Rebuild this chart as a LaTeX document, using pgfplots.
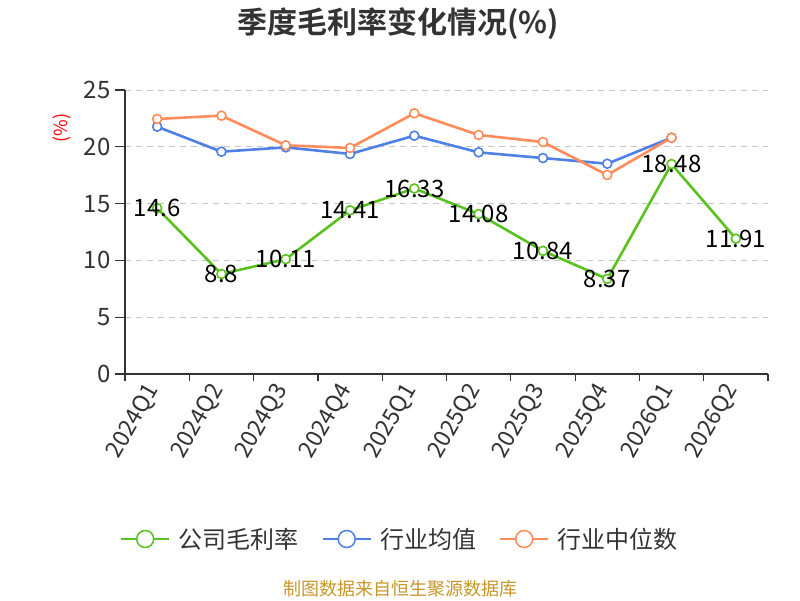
\documentclass[border=0pt]{standalone}
\usepackage{pgfplots}
\pgfplotsset{compat=1.18}
\usepackage{fontspec}
\setmainfont{Noto Sans CJK SC}
\newfontfamily\titlefont{Noto Sans CJK SC Bold}
\definecolor{cgreen}{HTML}{5AC21E}
\definecolor{cblue}{HTML}{4E80E6}
\definecolor{corange}{HTML}{FF8C5A}
\definecolor{ctext}{HTML}{333333}
\definecolor{cfoot}{HTML}{C9962B}
\begin{document}
\begin{tikzpicture}
\path[fill=white,use as bounding box] (0pt,0pt) rectangle (800pt,600pt);
\begin{axis}[
  at={(125pt,226pt)}, anchor=south west,
  scale only axis, width=643pt, height=284pt,
  xmin=-0.5, xmax=9.5, ymin=0, ymax=25,
  axis lines*=left,
  axis line style={ctext, line width=1.2pt},
  ytick={0,5,10,15,20,25},
  xtick={0,...,9},
  xticklabels={2024Q1,2024Q2,2024Q3,2024Q4,2025Q1,2025Q2,2025Q3,2025Q4,2026Q1,2026Q2},
  minor xtick={-0.5,0.5,...,9.5},
  every major x tick/.append style={draw=none},
  every minor x tick/.append style={ctext, line width=1.2pt},
  every major y tick/.append style={ctext, line width=1.2pt},
  major tick length=10pt, minor tick length=7pt,
  tick align=outside,
  ymajorgrids,
  grid style={dashed, gray!45, line width=1pt, dash pattern=on 6pt off 5pt},
  /pgf/number format/assume math mode=true,
  yticklabel style={font=\fontsize{24}{28}\selectfont, text=ctext, xshift=-1pt},
  xticklabel style={font=\fontsize{23}{27}\selectfont, text=ctext, rotate=60, anchor=east, yshift=2pt},
  legend columns=3,
  legend style={at={(0.428,-0.581)}, anchor=center, draw=none, fill=none,
    font=\fontsize{24}{28}\selectfont, text=ctext,
    /tikz/every odd column/.append style={column sep=7pt},
    /tikz/every even column/.append style={column sep=21pt}},
  legend image code/.code={\draw[#1, line width=1.5pt, mark size=8.5pt, mark options={fill=white, line width=1.5pt}, mark repeat=2, mark phase=2] plot coordinates {(0pt,0pt) (24pt,0pt) (48pt,0pt)};},
  clip=false,
]
\addplot[color=cgreen, line width=2.6pt, mark=*, mark size=4.5pt, mark options={fill=white, line width=1.6pt},
  point meta=explicit symbolic,
  nodes near coords, nodes near coords style={anchor=center, text=black, font=\fontsize{24}{28}\selectfont}]
coordinates {(0,14.6)[14.6] (1,8.8)[8.8] (2,10.11)[10.11] (3,14.41)[14.41] (4,16.33)[16.33] (5,14.08)[14.08] (6,10.84)[10.84] (7,8.37)[8.37] (8,18.48)[18.48] (9,11.91)[11.91]};
\addlegendentry{公司毛利率}
\addplot[color=cblue, line width=2.6pt, mark=*, mark size=4.5pt, mark options={fill=white, line width=1.6pt}]
coordinates {(0,21.77) (1,19.57) (2,19.95) (3,19.37) (4,20.98) (5,19.51) (6,19.01) (7,18.51) (8,20.8)};
\addlegendentry{行业均值}
\addplot[color=corange, line width=2.6pt, mark=*, mark size=4.5pt, mark options={fill=white, line width=1.6pt}]
coordinates {(0,22.45) (1,22.74) (2,20.13) (3,19.9) (4,22.95) (5,21.04) (6,20.42) (7,17.52) (8,20.8)};
\addlegendentry{行业中位数}
\node[rotate=90, text=red, font=\fontsize{18}{22}\selectfont] at (axis description cs:-0.098,0.866) {(\%)};
\end{axis}
\node[font=\titlefont\fontsize{30}{34}\selectfont, text=ctext] at (398pt,576pt) {季度毛利率变化情况(\%)};
\node[font=\fontsize{18}{21}\selectfont, text=cfoot] at (400pt,11pt) {制图数据来自恒生聚源数据库};
\end{tikzpicture}
\end{document}
